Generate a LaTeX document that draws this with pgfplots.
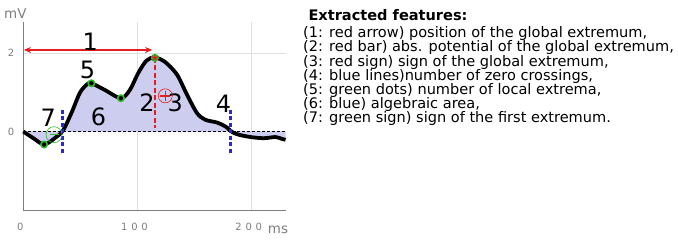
\documentclass[border=0pt]{standalone}
\usepackage{fontspec}
\setmainfont{DejaVu Sans}
\usepackage{pgfplots}
\pgfplotsset{compat=1.18}
\usetikzlibrary{arrows.meta}
\definecolor{fillc}{RGB}{205,205,240}
\definecolor{grn}{RGB}{45,185,45}
\definecolor{tickgray}{RGB}{125,125,125}
\definecolor{blu}{RGB}{40,40,215}
\definecolor{rd}{RGB}{228,30,30}
\begin{document}
\begin{tikzpicture}
\path[use as bounding box] (0,0) rectangle (678bp,241bp);
\begin{axis}[
  at={(23.3bp,31bp)}, anchor=south west,
  scale only axis, width=262.7bp, height=188.3bp,
  xmin=0, xmax=230, ymin=-2, ymax=2.8,
  axis x line*=bottom, axis y line*=left,
  axis line style={tickgray, line width=1pt, -},
  xtick={0,100,200}, xticklabels={0,{1\hspace{3.8bp}0\hspace{3.8bp}0},{2\hspace{3.8bp}0\hspace{3.8bp}0}},
  ytick={0,2}, yticklabels={0,2},
  /pgf/number format/assume math mode=true,
  major tick length=0pt,
  grid=major, grid style={black!12, line width=0.8pt},
  tick label style={tickgray, font=\fontsize{10}{11}\selectfont},
  xticklabel style={yshift=-10bp, xshift=-3bp},
  yticklabel style={xshift=-5.5bp},
  clip=false,
]
\addplot[fill=fillc, draw=none, smooth, tension=0.5] coordinates {
(0,0) (8.8,-0.17) (18.2,-0.33) (27.5,-0.17) (34.6,0.02) (42.1,0.47) (49.4,0.98) (55.3,1.19)
(59.6,1.23) (71.4,1.06) (85.4,0.85) (93.3,1.06) (100.6,1.49) (107.9,1.81) (115.2,1.89)
(124.3,1.77) (134.6,1.45) (143.3,0.94) (152.1,0.47) (159.4,0.30) (169.6,0.23) (176.9,0.13)
(182.8,-0.01) (188.6,-0.08) (198.9,-0.14) (210.5,-0.17) (220.8,-0.14) (226.7,-0.19) (229.6,-0.21)
} \closedcycle;
\addplot[black, densely dashed, line width=1pt, forget plot] coordinates {(0,0) (230,0)};
\addplot[black, line width=3.8pt, smooth, tension=0.5] coordinates {
(0,0) (8.8,-0.17) (18.2,-0.33) (27.5,-0.17) (34.6,0.02) (42.1,0.47) (49.4,0.98) (55.3,1.19)
(59.6,1.23) (71.4,1.06) (85.4,0.85) (93.3,1.06) (100.6,1.49) (107.9,1.81) (115.2,1.89)
(124.3,1.77) (134.6,1.45) (143.3,0.94) (152.1,0.47) (159.4,0.30) (169.6,0.23) (176.9,0.13)
(182.8,-0.01) (188.6,-0.08) (198.9,-0.14) (210.5,-0.17) (220.8,-0.14) (226.7,-0.19) (229.6,-0.21)
};
% zero crossings
\addplot[blu, line width=2.4pt, dash pattern=on 4bp off 2.5bp] coordinates {(34.4,0.55) (34.4,-0.58)};
\addplot[blu, line width=2.4pt, dash pattern=on 4bp off 2.5bp] coordinates {(181.5,0.55) (181.5,-0.55)};
% red arrow and bar
\addplot[rd, line width=1.3pt, {Stealth[length=7bp,width=6bp]}-{Stealth[length=7bp,width=6bp]}] coordinates {(0.5,2.08) (112.8,2.08)};
\addplot[rd, line width=1.3pt, dash pattern=on 5bp off 2.5bp] coordinates {(115.2,1.88) (115.2,0.09)};
% extrema
\addplot[only marks, mark=*, mark size=3.2bp, mark options={fill=black, draw=grn, line width=1.6bp}] coordinates {(18.2,-0.33) (59.6,1.23) (85.4,0.85)};
\addplot[only marks, mark=*, mark size=3.2bp, mark options={fill=grn, draw=grn, line width=1.6bp}] coordinates {(115.2,1.88)};
\addplot[only marks, mark=star, mark size=3bp, mark options={rd, line width=1.2bp}] coordinates {(115.2,1.88)};
% sign of first extremum (green minus)
\addplot[only marks, mark=o, mark size=8bp, mark options={grn, line width=0.6bp}] coordinates {(26.9,-0.08)};
\addplot[only marks, mark=-, mark size=4.5bp, mark options={grn, line width=1.6bp}] coordinates {(26.9,-0.08)};
% sign of global extremum (red plus)
\addplot[only marks, mark=o, mark size=7bp, mark options={rd, line width=0.6bp}] coordinates {(124.3,0.91)};
\addplot[only marks, mark=+, mark size=5bp, mark options={rd, line width=1.4bp}] coordinates {(124.3,0.91)};
% labels
\tikzset{lab/.style={font=\fontsize{24}{24}\selectfont, inner sep=0pt}}
\node[lab] at (axis cs:58.5,2.3) {1};
\node[lab] at (axis cs:108.2,0.74) {2};
\node[lab] at (axis cs:133,0.74) {3};
\node[lab] at (axis cs:175.2,0.72) {4};
\node[lab] at (axis cs:56.2,1.57) {5};
\node[lab] at (axis cs:65.8,0.38) {6};
\node[lab] at (axis cs:21.9,0.34) {7};
\node[tickgray, font=\fontsize{13.5}{13.5}\selectfont, anchor=west, inner sep=0pt] at (axis cs:214,-2.5) {ms};
\node[tickgray, font=\fontsize{13.5}{13.5}\selectfont, inner sep=0pt] at (axis cs:-7,3.0) {mV};
\end{axis}
\begin{scope}[every node/.style={anchor=base west, inner sep=0pt, font=\fontsize{14.6}{14.6}\selectfont}]
\node at (308.3bp,220.3bp) {\textbf{Extracted features:}};
\node at (303bp,203.3bp) {(1: red arrow) position of the global extremum,};
\node at (303bp,189.13bp) {(2: red bar) abs. potential of the global extremum,};
\node at (303bp,174.96bp) {(3: red sign) sign of the global extremum,};
\node at (303bp,160.79bp) {(4: blue lines)number of zero crossings,};
\node at (303bp,146.62bp) {(5: green dots) number of local extrema,};
\node at (303bp,132.45bp) {(6: blue) algebraic area,};
\node at (303bp,118.28bp) {(7: green sign) sign of the first extremum.};
\end{scope}
\end{tikzpicture}
\end{document}
